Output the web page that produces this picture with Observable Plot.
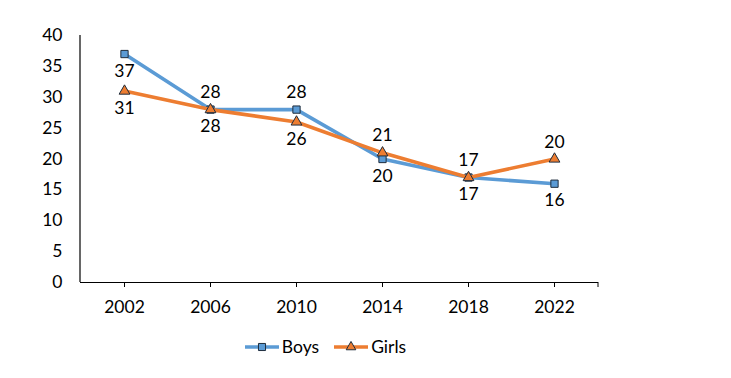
<!DOCTYPE html>
<html>
<head>
<meta charset="utf-8">
<script src="https://cdn.jsdelivr.net/npm/d3@7"></script>
<script src="https://cdn.jsdelivr.net/npm/@observablehq/plot@0.6"></script>
<style>
  body { margin: 0; background: #fff; }
  #wrap { position: relative; width: 731px; height: 378px; font-family: Lato, "Open Sans", sans-serif; }
  #legend { position: absolute; left: 0; top: 336px; width: 650px; display: flex; justify-content: center; gap: 14px; font-size: 17.5px; color: #000; }
  .item { display: flex; align-items: center; gap: 2px; }
</style>
</head>
<body>
<div id="wrap"><div id="chart"></div><div id="legend"></div></div>
<script>
const years = ["2002", "2006", "2010", "2014", "2018", "2022"];
const boys = [37, 28, 28, 20, 17, 16];
const girls = [31, 28, 26, 21, 17, 20];
const yTicks = [0, 5, 10, 15, 20, 25, 30, 35, 40];
const seriesNames = ["Boys", "Girls"];
const boysLabelSide = [1, -1, -1, 1, 1, 1];   // 1 = below, -1 = above
const girlsLabelSide = [1, 1, 1, -1, -1, -1];

const colors = { Boys: "#5B9BD5", Girls: "#ED7D31" };
const symbols = { Boys: "square", Girls: "triangle" };

const rows = [];
years.forEach((y, i) => {
  rows.push({ year: y, value: boys[i], series: "Boys", side: boysLabelSide[i] });
  rows.push({ year: y, value: girls[i], series: "Girls", side: girlsLabelSide[i] });
});
const bRows = rows.filter(d => d.series === "Boys");
const gRows = rows.filter(d => d.series === "Girls");

const font = "Lato, 'Open Sans', sans-serif";
const fs = 17.5;

function seriesMarks(data, name) {
  return [
    Plot.line(data, { x: "year", y: "value", stroke: colors[name], strokeWidth: 3.6 }),
    Plot.dot(data, { x: "year", y: "value", symbol: () => symbols[name], r: name === "Boys" ? 4.1 : 4,
      fill: colors[name], stroke: "#1f2d3d", strokeWidth: 1 })
  ];
}

const plot = Plot.plot({
  width: 731,
  height: 378,
  marginLeft: 80,
  marginRight: 133,
  marginTop: 35,
  marginBottom: 96,
  style: { fontFamily: font, fontSize: fs + "px", color: "#000", background: "#fff" },
  x: { type: "point", domain: years, padding: 0.5 },
  y: { domain: [0, 40] },
  symbol: { type: "identity" },
  marks: [
    Plot.axisY({ ticks: yTicks, tickSize: 0, tickPadding: 18, fontSize: fs, label: null }),
    Plot.axisX({ tickSize: 5, tickPadding: 13, fontSize: fs, label: null }),
    Plot.ruleY([0], { stroke: "#000", strokeWidth: 1.2 }),
    ...seriesMarks(bRows, "Boys"),
    ...seriesMarks(gRows, "Girls"),
    Plot.text(bRows.filter(d => d.side > 0), { x: "year", y: "value", text: d => String(d.value), dy: 17, fontSize: fs, fill: "#000" }),
    Plot.text(bRows.filter(d => d.side < 0), { x: "year", y: "value", text: d => String(d.value), dy: -17, fontSize: fs, fill: "#000" }),
    Plot.text(gRows.filter(d => d.side > 0), { x: "year", y: "value", text: d => String(d.value), dy: 17, fontSize: fs, fill: "#000" }),
    Plot.text(gRows.filter(d => d.side < 0), { x: "year", y: "value", text: d => String(d.value), dy: -17, fontSize: fs, fill: "#000" })
  ]
});

// axis lines derived from the scales
const xs = plot.scale("x"), ys = plot.scale("y");
const svg = d3.select(plot);
const x0 = xs.range[0], x1 = xs.range[1];
const yTop = ys.range[1], yBot = ys.range[0];
svg.append("line").attr("x1", x0).attr("x2", x0).attr("y1", yTop).attr("y2", yBot).attr("stroke", "#000").attr("stroke-width", 1.2);
svg.append("line").attr("x1", x1).attr("x2", x1).attr("y1", yBot).attr("y2", yBot + 5).attr("stroke", "#000").attr("stroke-width", 1);
document.getElementById("chart").appendChild(plot);

// legend
const legend = d3.select("#legend");
seriesNames.forEach(name => {
  const item = legend.append("div").attr("class", "item");
  const s = item.append("svg").attr("width", 36).attr("height", 14);
  s.append("line").attr("x1", 1).attr("x2", 35).attr("y1", 7).attr("y2", 7).attr("stroke", colors[name]).attr("stroke-width", 3.6);
  s.append("path").attr("transform", "translate(18,7)")
    .attr("d", d3.symbol(name === "Boys" ? d3.symbolSquare : d3.symbolTriangle, name === "Boys" ? 50 : 40)())
    .attr("fill", colors[name]).attr("stroke", "#1f2d3d").attr("stroke-width", 1);
  item.append("span").text(name);
});
</script>
</body>
</html>
